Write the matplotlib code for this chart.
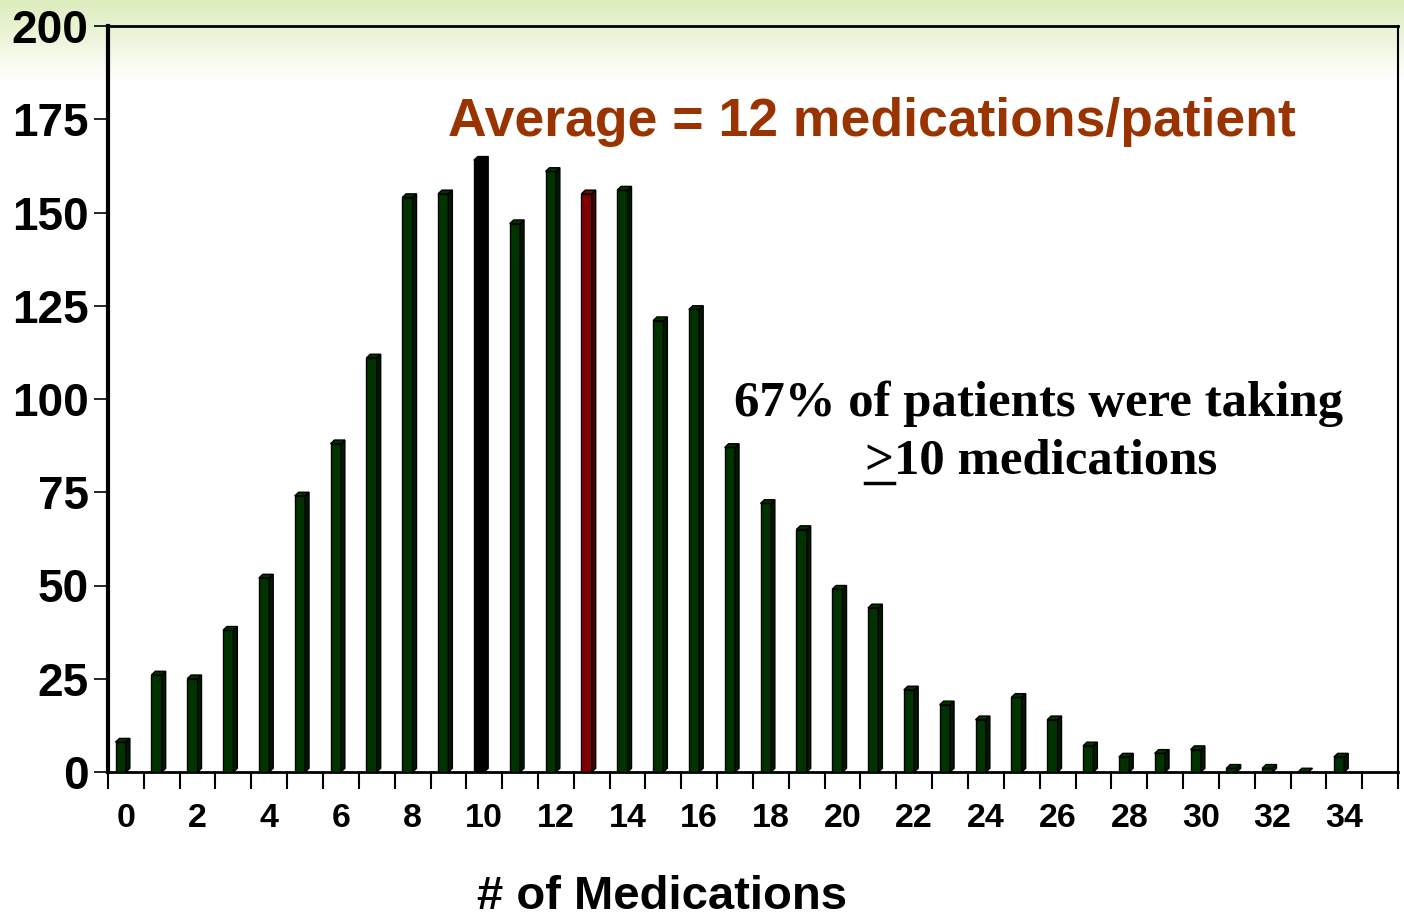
import numpy as np
import matplotlib
matplotlib.use("Agg")
import matplotlib.pyplot as plt
from matplotlib.patches import Polygon, Rectangle

# number of patients by number of medications (0..35)
n_meds = list(range(36))
patients = [8, 26, 25, 38, 52, 74, 88, 111, 154, 155,
            164, 147, 161, 155, 156, 121, 124, 87, 72, 65,
            49, 44, 22, 18, 14, 20, 14, 7, 4, 5,
            6, 1, 1, 0, 4, 0]
x_labels = [str(i) for i in range(0, 35, 2)]
y_ticks = [0, 25, 50, 75, 100, 125, 150, 175, 200]

green = "#003300"
green_side = "#001a00"
special = {10: ("#000000", "#000000"), 13: ("#800000", "#4a0000")}

fig = plt.figure(figsize=(14.04, 9.17), dpi=100)

# light green gradient band at top of the slide
bg = fig.add_axes([0, 0, 1, 1], zorder=-10)
top_rgb = np.array([221, 237, 190]) / 255
img = np.ones((300, 1, 3))
h = np.clip(1 - np.arange(300) / 300 * 917 / 80, 0, 1)
for c in range(3):
    img[:, 0, c] = 1 - h * (1 - top_rgb[c])
bg.imshow(img, aspect="auto", extent=[0, 1, 0, 1], origin="upper")
bg.axis("off")

ax = fig.add_axes([108 / 1404, 1 - 772 / 917, (1398 - 108) / 1404, (772 - 26) / 917])
ax.patch.set_alpha(0)
ax.set_xlim(-0.5, 35.5)
ax.set_ylim(0, 200)

w_front = 0.29
dx, dy = 0.11, 1.0
for x, v in zip(n_meds, patients):
    face, side = special.get(x, (green, green_side))
    if v == 0 and x > 34:
        continue
    x0 = x - w_front
    ax.add_patch(Rectangle((x0, 0), w_front, v, facecolor=face,
                           edgecolor="black", lw=1, zorder=3))
    ax.add_patch(Polygon([(x, 0), (x + dx, dy), (x + dx, v + dy), (x, v)],
                         closed=True, facecolor=side, edgecolor="black", lw=1, zorder=3))
    ax.add_patch(Polygon([(x0, v), (x0 + dx, v + dy), (x + dx, v + dy), (x, v)],
                         closed=True, facecolor=face, edgecolor="black", lw=1, zorder=3))

for s in ["left", "right", "top", "bottom"]:
    ax.spines[s].set_color("black")
ax.spines["left"].set_linewidth(3)
ax.spines["bottom"].set_linewidth(2)
ax.spines["top"].set_linewidth(2)
ax.spines["right"].set_linewidth(1.5)

ax.set_yticks(y_ticks)
ax.set_yticklabels([str(t) for t in y_ticks], fontsize=33, fontweight="bold",
                   family="Liberation Sans")
ax.tick_params(axis="y", length=10, width=1.2, pad=4)

ax.set_xticks(np.arange(-0.5, 36, 1))
ax.set_xticklabels([])
ax.tick_params(axis="x", length=12, width=1.5, direction="out")
for i, lab in enumerate(x_labels):
    ax.text(2 * i, -8.3, lab, ha="center", va="top", fontsize=24.5,
            fontweight="bold", family="Liberation Sans")

fig.text(662 / 1404, 1 - 897 / 917, "# of Medications", ha="center",
         va="center", fontsize=34, fontweight="bold", family="Liberation Sans")

ax.text(20.82, 174.2, "Average = 12 medications/patient", ha="center", va="center",
        fontsize=38.5, fontweight="bold", color="#993300", family="Liberation Sans")

ax.text(25.48, 98.8, "67% of patients were taking", ha="center", va="center",
        fontsize=36.5, fontweight="bold", family="Liberation Serif")
t2 = ax.text(25.55, 83.2, ">10 medications", ha="center", va="center",
             fontsize=36.5, fontweight="bold", family="Liberation Serif")

# underline the ">" sign so it reads as "greater than or equal"
fig.canvas.draw()
r = fig.canvas.get_renderer()
bb = t2.get_window_extent(r)
tmp = fig.text(0, 0, ">", fontsize=36.5, fontweight="bold", family="Liberation Serif")
gw = tmp.get_window_extent(r).width
tmp.remove()
uy = bb.y0 + 2
fig.add_artist(plt.Line2D([bb.x0 / 1404, (bb.x0 + gw) / 1404], [uy / 917, uy / 917],
                          color="black", lw=2.5, transform=fig.transFigure))

fig.savefig("out.png", dpi=100)
